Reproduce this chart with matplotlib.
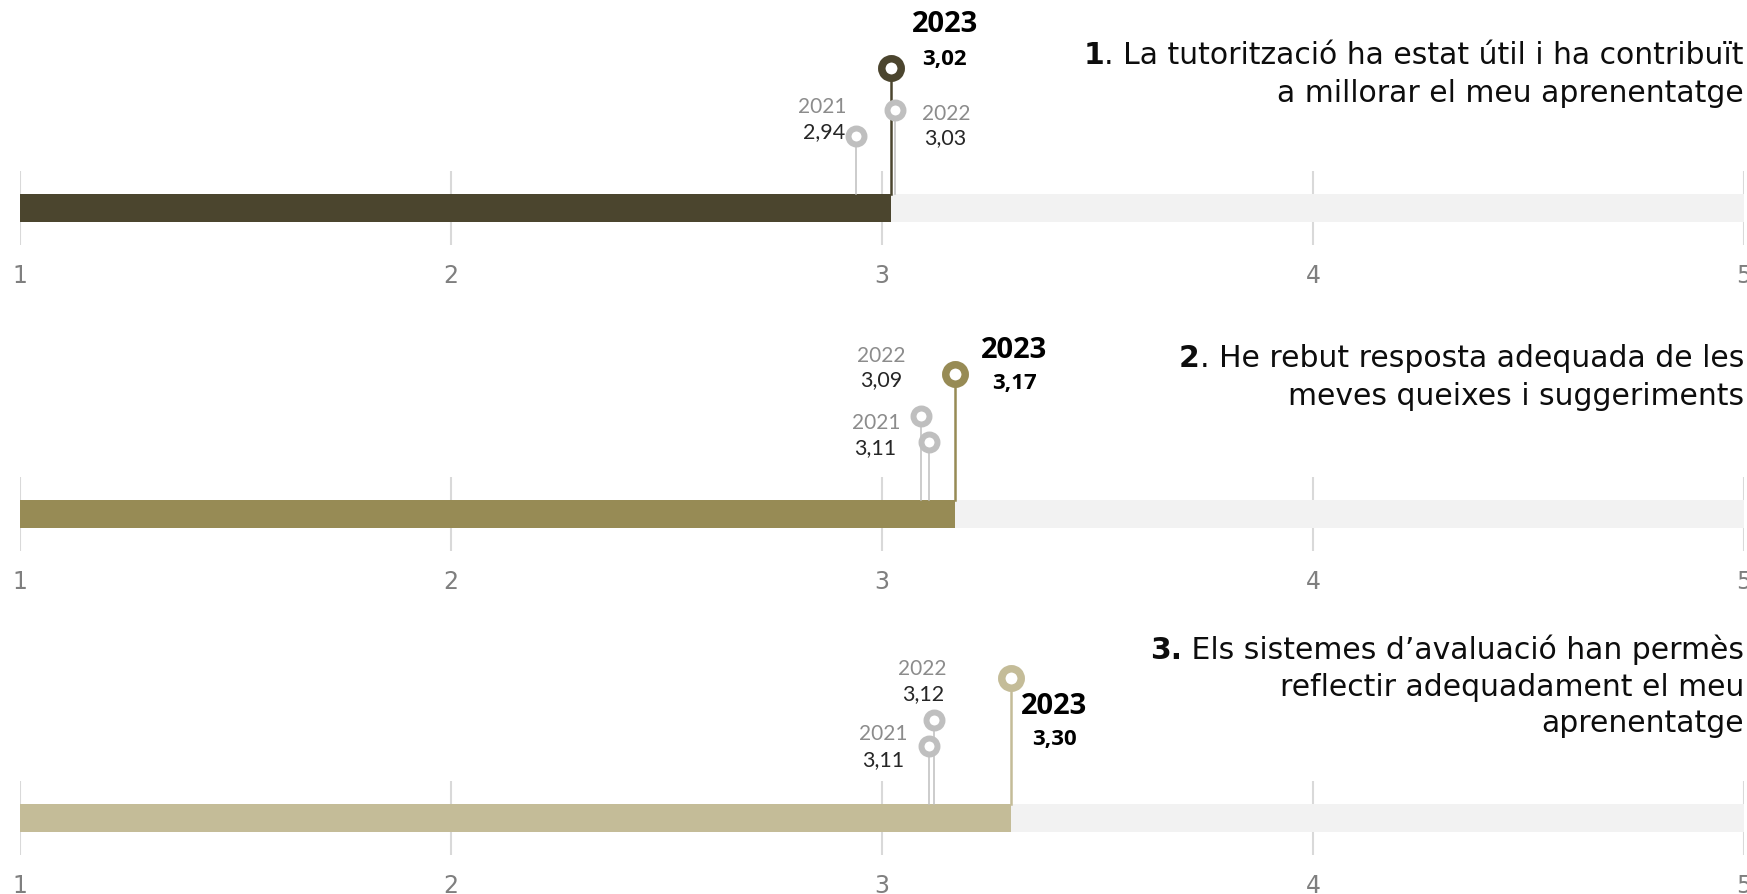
import numpy as np
import matplotlib.pyplot as plt
from matplotlib.transforms import blended_transform_factory

# data
years = ["2021", "2022", "2023"]
scores_2021 = [2.94, 3.11, 3.11]
scores_2022 = [3.03, 3.09, 3.12]
scores_2023 = [3.02, 3.17, 3.30]
scale_ticks = [1, 2, 3, 4, 5]
q_prefix = ["1", "2", "3."]
q_lines = [
    [". La tutorització ha estat útil i ha contribuït", "a millorar el meu aprenentatge"],
    [". He rebut resposta adequada de les", "meves queixes i suggeriments"],
    [" Els sistemes d\u2019avaluació han permès", "reflectir adequadament el meu", "aprenentatge"],
]

# style / layout (pixels)
bar_colors = ["#4b452e", "#978b55", "#c4bc98"]
track_color = "#f2f2f2"
gray = "#bfbfbf"
W, H = 1747, 894
x_left, x_right = 20, 1744
panel_centers = [208, 514, 818]
half_span = 37      # gridline half height
bar_h = 28
stem_top = {"2021": 72, "2022": 98, "2023": 140}
# label offsets (dx, dy) in pixels for year label and value label, per panel and year
label_offsets = [
    {"2021": ((-34, 29), (-32, 4)), "2022": ((51, -4), (50, -28)), "2023": ((54, 43), (54, 9))},
    {"2021": ((-53, 19), (-54, -6)), "2022": ((-40, 60), (-40, 36)), "2023": ((59, 23), (59, -10))},
    {"2021": ((-46, 12), (-46, -14)), "2022": ((-11, 51), (-11, 26)), "2023": ((43, -28), (43, -61))},
]
title_y = [[152, 114], [155, 117], [168, 131, 95]]

fig = plt.figure(figsize=(W / 100, H / 100), dpi=100)

for i in range(3):
    c = panel_centers[i]
    ax = fig.add_axes([x_left / W, (H - c - half_span) / H,
                       (x_right - x_left) / W, 2 * half_span / H])
    ax.set_xlim(1, 5)
    ax.set_ylim(-half_span, half_span)
    for s in ax.spines.values():
        s.set_visible(False)
    ax.set_yticks([])
    ax.set_xticks(scale_ticks)
    ax.set_xticklabels([str(t) for t in scale_ticks], color="#7f7f7f", fontsize=17,
                       family=["Liberation Sans Narrow", "DejaVu Sans"])
    ax.tick_params(axis="x", length=0, pad=14)
    ax.grid(axis="x", color="#d9d9d9", lw=1.5)
    ax.set_axisbelow(True)

    v23 = scores_2023[i]
    ax.barh(0, v23 - 1, left=1, height=bar_h, color=bar_colors[i], zorder=2)
    ax.barh(0, 5 - v23, left=v23, height=bar_h, color=track_color, zorder=2)

    vals = {"2021": scores_2021[i], "2022": scores_2022[i], "2023": v23}
    for yr in years:
        v = vals[yr]
        top = stem_top[yr]
        if yr == "2023":
            col, lw, ms, mew = bar_colors[i], 1.8, 14, 5.4
        else:
            col, lw, ms, mew = gray, 1.1, 11.5, 4.3
        ax.plot([v, v], [bar_h / 2, top], color=col, lw=lw, clip_on=False, zorder=3)
        ax.plot(v, top, "o", ms=ms, mfc="white", mec=col, mew=mew, clip_on=False, zorder=4)
        (ydx, ydy), (vdx, vdy) = label_offsets[i][yr]
        vtxt = f"{v:.2f}".replace(".", ",")
        if yr == "2023":
            ax.annotate(yr, (v, top), xytext=(ydx, ydy), textcoords="offset pixels",
                        ha="center", va="center", fontsize=21, fontweight="bold",
                        family="Open Sans", color="black", annotation_clip=False)
            ax.annotate(vtxt, (v, top), xytext=(vdx, vdy), textcoords="offset pixels",
                        ha="center", va="center", fontsize=16, fontweight="bold",
                        family="Open Sans", color="black", annotation_clip=False)
        else:
            ax.annotate(yr, (v, top), xytext=(ydx, ydy), textcoords="offset pixels",
                        ha="center", va="center", fontsize=15,
                        family="Lato", color="#8c8c8c", annotation_clip=False)
            ax.annotate(vtxt, (v, top), xytext=(vdx, vdy), textcoords="offset pixels",
                        ha="center", va="center", fontsize=15.5,
                        family="Lato", color="#262626", annotation_clip=False)

    # question text, right aligned
    trans = blended_transform_factory(ax.transAxes, ax.transData)
    first = None
    for k, line in enumerate(q_lines[i]):
        t = ax.text(1.0, title_y[i][k], line, transform=trans, ha="right", va="center",
                    fontsize=21.5, color="#0d0d0d", clip_on=False)
        if k == 0:
            first = t
    ax.annotate(q_prefix[i], xy=(0, 0), xycoords=first, ha="right", va="bottom",
                fontsize=21.5, fontweight="bold", color="#0d0d0d")

fig.savefig("out.png", dpi=100)
